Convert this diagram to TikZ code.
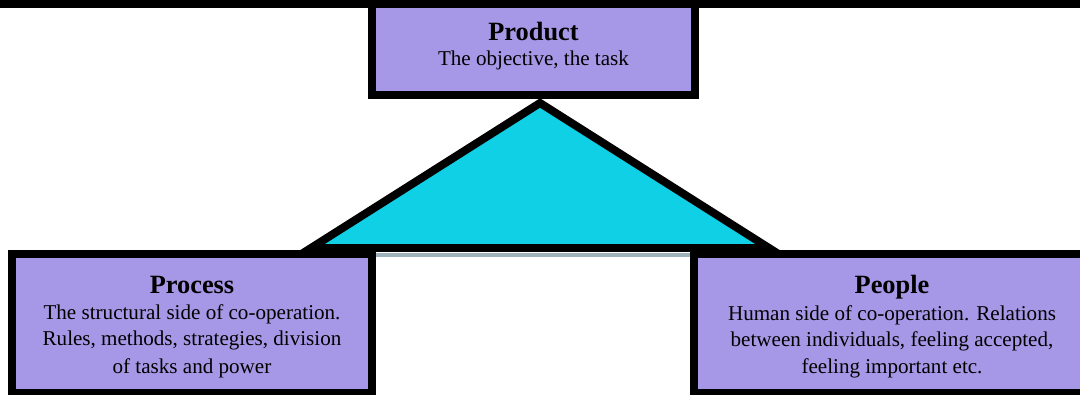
\documentclass[tikz,border=0pt]{standalone}
\usepackage{fontspec}
\setmainfont{Liberation Serif}
\usetikzlibrary{calc}
\definecolor{boxlilac}{HTML}{A698E6}
\definecolor{tricyan}{HTML}{10D0E6}
\definecolor{shadowgray}{HTML}{9FB2BA}
\tikzset{
	box/.style={draw=black,line width=4.55pt,fill=boxlilac,align=center,inner sep=0pt,
		font=\fontsize{12}{15}\selectfont},
}
\newcommand{\boxtitle}[1]{{\fontsize{15}{18}\selectfont\bfseries\rule{0pt}{14pt}#1}}

\begin{document}
\begin{tikzpicture}
				  \useasboundingbox (0,0) rectangle (21.6,7.88);
				  \clip (0,0) rectangle (21.6,7.88);
				  %TRIANGLE
				  \coordinate (T) at (10.8,5.82);
				  \coordinate (L) at (6.22,2.92);
				  \coordinate (R) at (15.38,2.92);
				  \draw[line width=4.55pt,fill=tricyan] (T) -- (L) -- (R) -- cycle;
				  \fill[shadowgray] (7.52,2.73) rectangle (13.8,2.82);
				  %BOXES
				  \node[box,minimum width=6.46cm,minimum height=2.08cm] (product) at (10.67,7.02)
					{\boxtitle{Product}\\[-1pt]The objective, the task};
				  \node[box,minimum width=7.2cm,minimum height=2.78cm] (process) at (3.84,1.41)
					{\boxtitle{Process}\\The structural side of co-operation.\\Rules, methods, strategies, division\\[1pt]of tasks and power};
				  \node[box,minimum width=7.92cm,minimum height=2.78cm] (people) at (17.84,1.41)
					{\boxtitle{People}\\Human side of co-operation. Relations\\between individuals, feeling accepted,\\feeling important etc.};
				  %TOP EDGE
				  \fill (0,7.72) rectangle (21.6,7.88);
				  \end{tikzpicture}
\end{document}
